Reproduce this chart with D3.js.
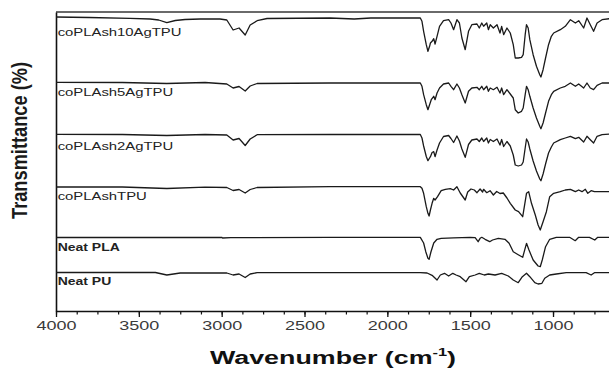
<!DOCTYPE html>
<html>
<head>
<meta charset="utf-8">
<script src="https://cdn.jsdelivr.net/npm/d3@7/dist/d3.min.js"></script>
<style>
  body { margin: 0; background: #fff; }
  svg { display: block; font-family: "Liberation Sans", Arial, sans-serif; }
</style>
</head>
<body>
<svg></svg>
<script>
// FTIR spectra, stacked (transmittance, arbitrary offset units)
const names = ["coPLAsh10AgTPU", "coPLAsh5AgTPU", "coPLAsh2AgTPU", "coPLAshTPU", "Neat PLA", "Neat PU"];
const labelT = [275, 215, 161, 111, 60, 26];
const xTicks = [4000, 3500, 3000, 2500, 2000, 1500, 1000];

const s10Ag = [[4000,294],[3800,293.5],[3553,292.7],[3432,292],[3380,291],[3331,288.3],[3280,290.5],[3221,291.5],[3130,292],[3010,292],
  [2969,291],[2931,281],[2895,283],[2858,276],[2828,286],[2786,290.3],[2726,292.5],[2345,293],[2200,292],[2100,293],[1801,293],
  [1791,289.7],[1781,279.7],[1765,266.3],[1755,259.7],[1745,264.7],[1740,268],[1730,269.7],[1720,272.3],[1712,267],[1700,274.7],
  [1685,284.7],[1661,290.3],[1630,291.3],[1616,288],[1600,281.3],[1580,291.3],[1565,288],[1550,273],[1530,261.3],[1510,279.7],
  [1490,286.3],[1459,287],[1445,283],[1430,288],[1419,284.7],[1400,288],[1390,281.3],[1379,286.3],[1360,283],[1338,286.3],
  [1320,278],[1310,284.7],[1298,276.3],[1278,283],[1258,278],[1240,266.3],[1228,253],[1210,253],[1190,253.7],[1180,256.3],
  [1168,276.3],[1160,286.3],[1150,283],[1140,271.3],[1120,256.3],[1100,244.7],[1080,236.3],[1073,234],[1060,241.3],[1045,253],
  [1027,266.3],[1010,274.7],[996,278],[956,281.3],[926,284.7],[895,291.3],[865,288],[845,290.3],[815,283],[795,293],[775,286.3],
  [755,279.7],[734,288],[704,291.3],[660,292.3]];

const s5Ag = [[4000,228.7],[3600,228.5],[3331,227.5],[3100,228.5],[2969,227],[2931,223],[2895,224.5],[2858,220],[2828,225],
  [2786,227.5],[2345,228],[1801,228],[1791,224.7],[1781,216.3],[1765,206.3],[1755,201.3],[1745,206.3],[1735,211.3],[1720,214.7],
  [1712,211.3],[1700,218],[1685,223],[1661,227],[1630,228],[1616,224.7],[1600,221.3],[1580,227],[1565,223],[1550,216.3],
  [1530,208],[1510,219.7],[1490,223],[1459,223.7],[1445,221.3],[1430,224.7],[1419,221.3],[1400,224.7],[1390,219.7],[1379,223],
  [1360,221.3],[1338,223.7],[1320,218],[1310,223],[1298,216.3],[1278,221.3],[1258,217],[1240,213],[1228,201.3],[1210,198],
  [1190,199.7],[1180,203],[1168,216.3],[1160,224.7],[1150,221.3],[1140,214.7],[1120,203],[1100,193],[1080,184.7],[1073,182.3],
  [1060,188],[1045,198],[1027,209.7],[1010,216.3],[996,219.7],[956,223],[926,224.7],[895,228],[865,224.7],[845,227],[815,223],
  [795,228],[775,223],[755,221.3],[734,225.7],[704,228],[660,228]];

const s2Ag = [[4000,176.7],[3600,176.5],[3331,175.5],[3100,176.5],[2969,176],[2931,171],[2895,172.5],[2858,165.5],[2828,172],
  [2786,176.3],[2345,176.5],[1801,176.5],[1791,173],[1781,165],[1765,154.5],[1755,150.3],[1745,153],[1740,154.3],[1730,158.5],
  [1720,159.3],[1712,154.3],[1700,161],[1685,168],[1661,174.5],[1630,175.5],[1616,172.5],[1600,168.5],[1580,175],[1565,170],
  [1550,162],[1530,153.7],[1510,166.5],[1490,171],[1459,172],[1445,169.5],[1430,173],[1419,169.5],[1400,173],[1390,168],
  [1379,171.5],[1360,169.5],[1338,172],[1320,166],[1310,171.5],[1298,164.5],[1278,169.5],[1258,165],[1240,156],[1228,146],
  [1210,145],[1190,146],[1180,149],[1168,163],[1160,172],[1150,169],[1140,162],[1120,150],[1100,140],[1080,132],[1073,130.3],
  [1060,137],[1045,147],[1027,158],[1010,164],[996,168],[956,171.3],[926,173],[895,174.7],[865,172.3],[845,173.7],[815,169],
  [795,174.7],[775,171.3],[755,168],[734,174.7],[704,176.3],[660,177]];

const sTPU = [[4000,124],[3600,124],[3331,122.5],[3100,123.8],[2969,123.5],[2931,120.5],[2895,121.5],[2858,118],[2828,121.5],
  [2786,123.5],[2345,124.3],[1801,124.3],[1791,122.7],[1781,117.7],[1765,104.3],[1755,97.7],[1748,95],[1740,101],[1730,107.7],
  [1720,112.7],[1712,111],[1697,114.3],[1675,120.3],[1650,121.7],[1620,122.3],[1600,121],[1580,124.3],[1560,118],[1530,111],
  [1515,119],[1495,122],[1475,121],[1459,118.3],[1440,122],[1425,119],[1419,121.7],[1400,118.3],[1380,120.3],[1360,116],
  [1340,119.5],[1320,117.5],[1300,118],[1278,113],[1258,107.7],[1228,101],[1208,99.3],[1183,94.3],[1160,117.7],[1147,119.3],
  [1130,107.7],[1107,96],[1090,86],[1077,81],[1060,89.3],[1040,99.3],[1020,114.3],[996,117.7],[956,119.3],[926,121],[895,121.7],
  [865,119.3],[845,121],[825,119.3],[805,121.7],[790,117.7],[770,120.3],[750,119.3],[700,119.3],[660,119.3]];

const neatPLA = [[4000,73.5],[3500,73.5],[3000,73.7],[2995,73],[2945,73.3],[2345,73.7],[1801,73.7],[1781,68],[1768,59.3],
  [1755,52.7],[1748,51.7],[1737,59],[1720,68],[1700,71.7],[1675,72.7],[1600,73.2],[1500,73.7],[1470,73.3],[1452,69.3],[1440,72.7],
  [1430,73.7],[1410,71.7],[1382,69.3],[1365,71],[1330,72.7],[1290,71.7],[1265,67.7],[1240,59.3],[1210,56.3],[1183,53.7],
  [1160,67.7],[1145,61],[1120,51],[1090,45],[1077,44.3],[1065,51],[1045,64.3],[1020,71.7],[980,73.7],[900,73.7],[866,70.3],
  [845,73.7],[780,73.7],[748,71],[730,73.7],[660,73.7]];

const neatPU = [[4000,38.5],[3400,38.5],[3331,36],[3250,38],[2969,38],[2931,36],[2895,37],[2858,33.5],[2828,37],[2786,38.3],
  [2345,38.3],[1801,38.3],[1760,38],[1730,35.7],[1700,31],[1680,36],[1655,37.7],[1630,35],[1605,37.7],[1585,36],[1560,34.3],
  [1525,29.3],[1505,34.3],[1470,36],[1445,37.7],[1415,36],[1390,37],[1350,36],[1310,37.7],[1270,35],[1240,31],[1210,28.3],
  [1185,34.3],[1160,37.7],[1140,34.3],[1110,28.3],[1090,27],[1067,27.7],[1050,32.7],[1020,36],[980,37],[920,38.3],[800,38.3],
  [770,36],[750,38.3],[660,38.3]];

const spectra = [s10Ag, s5Ag, s2Ag, sTPU, neatPLA, neatPU];

let width = 609, height = 370;
let svg = d3.select("svg").attr("width", width).attr("height", height);

let x = d3.scaleLinear().domain([4000, 650]).range([56, 611]);
let y = d3.scaleLinear().domain([0, 299]).range([311, 12]);

// stretch text horizontally like the original export
function stretch(sel, k) {
  sel.each(function() {
    let w = this.getComputedTextLength();
    d3.select(this).attr("textLength", w * k).attr("lengthAdjust", "spacingAndGlyphs");
  });
}

// top frame line
svg.append("line")
  .attr("x1", x(4000)).attr("x2", x(650))
  .attr("y1", y(299)).attr("y2", y(299))
  .attr("stroke", "#6a6a6a").attr("stroke-width", 2);

// minor ticks
let minor = d3.range(4000, 649, -125);
svg.append("g")
  .attr("transform", `translate(0,${y(0)})`)
  .call(d3.axisBottom(x).tickValues(minor).tickSize(3.5).tickFormat(""))
  .call(g => g.select(".domain").remove())
  .selectAll("line").attr("stroke", "#111").attr("stroke-width", 1.2);

// major ticks + labels
let axisX = svg.append("g")
  .attr("transform", `translate(0,${y(0)})`)
  .call(d3.axisBottom(x).tickValues(xTicks).tickSize(6).tickPadding(4).tickSizeOuter(0).tickFormat(d3.format("d")));
axisX.select(".domain").attr("stroke", "#111").attr("stroke-width", 1.6);
axisX.selectAll("line").attr("stroke", "#111").attr("stroke-width", 1.3);
axisX.selectAll("text")
  .attr("font-family", "Liberation Sans, Arial, sans-serif")
  .attr("font-size", 12).attr("fill", "#3a3a3a");
stretch(axisX.selectAll("text"), 1.5);

// left axis
let axisY = svg.append("g")
  .attr("transform", `translate(${x(4000)},0)`)
  .call(d3.axisLeft(y).tickValues([]).tickSizeOuter(0));
axisY.select(".domain").attr("stroke", "#111").attr("stroke-width", 1.6);

// spectra
let line = d3.line().x(d => x(d[0])).y(d => y(d[1]));
svg.selectAll("path.spec").data(spectra).enter().append("path")
  .attr("class", "spec")
  .attr("d", line)
  .attr("fill", "none")
  .attr("stroke", "#1a1a1a")
  .attr("stroke-width", 1.3)
  .attr("stroke-linejoin", "round");

// series labels
let labels = svg.selectAll("text.lab").data(names).enter().append("text")
  .attr("class", "lab")
  .attr("x", x(3990))
  .attr("y", (d, i) => y(labelT[i]))
  .attr("font-size", 11)
  .attr("font-weight", d => d.startsWith("Neat") ? "bold" : "normal")
  .attr("fill", "#222")
  .text(d => d);
stretch(labels.filter(d => !d.startsWith("Neat")), 1.35);
stretch(labels.filter(d => d.startsWith("Neat")), 1.27);

// axis titles
let xt = svg.append("text")
  .attr("x", 333).attr("y", 364)
  .attr("text-anchor", "middle")
  .attr("font-size", 18).attr("font-weight", "bold").attr("fill", "#111");
xt.append("tspan").text("Wavenumber (cm");
xt.append("tspan").attr("font-size", 11).attr("dy", -8).text("-1");
xt.append("tspan").attr("dy", 8).text(")");
stretch(xt, 1.49);

let yt = svg.append("text")
  .attr("transform", "translate(27,140.5) rotate(-90)")
  .attr("text-anchor", "middle")
  .attr("font-size", 22).attr("font-weight", "bold").attr("fill", "#1a1a1a")
  .text("Transmittance (%)");
yt.each(function() {
  d3.select(this).attr("textLength", 157).attr("lengthAdjust", "spacingAndGlyphs");
});
</script>
</body>
</html>
